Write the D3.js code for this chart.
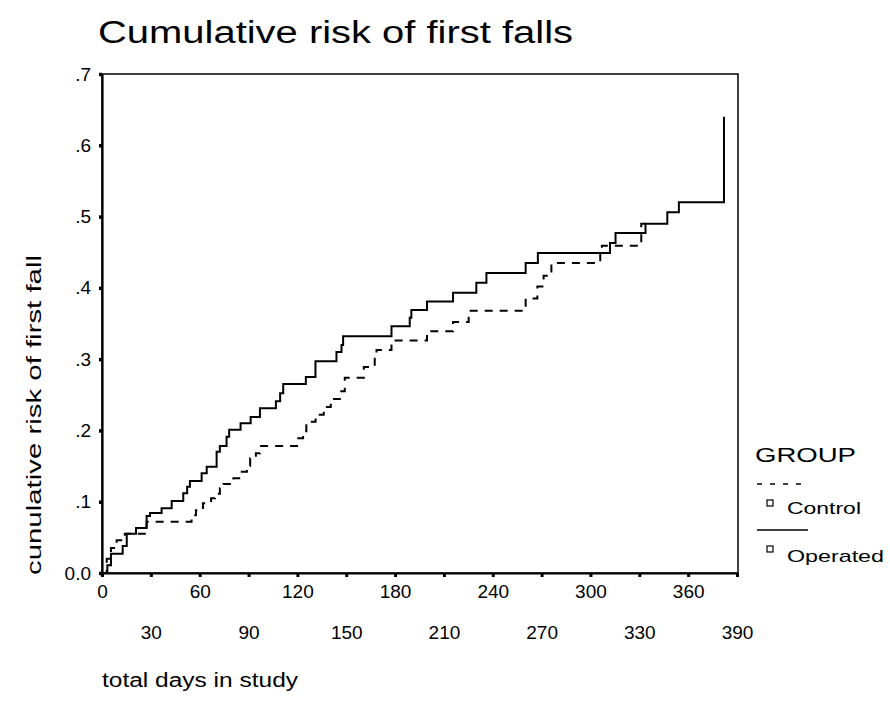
<!DOCTYPE html>
<html>
<head>
<meta charset="utf-8">
<script src="https://cdn.jsdelivr.net/npm/d3@7"></script>
<style>
body { margin: 0; background: #fff; }
text { font-family: "Liberation Sans", Arial, sans-serif; fill: #000; }
</style>
</head>
<body>
<script>
// Kaplan-Meier style cumulative risk

var w = 890;
var h = 715;

var xTicks = [0, 30, 60, 90, 120, 150, 180, 210, 240, 270, 300, 330, 360, 390];
var yTicks = [0, 0.1, 0.2, 0.3, 0.4, 0.5, 0.6, 0.7];

// Operated group (solid)
var operatedDays = [0, 3.3, 5.5, 12.7, 15.2, 20.9, 27.4, 29.5, 36.6, 42.8, 49.9, 52.3, 54,
    61.2, 64.3, 70.4, 72.4, 76.5, 78.1, 85.1, 91.3, 97, 106.8, 109.4, 111.3, 125.2,
    131.1, 144, 147.1, 148.1, 177.8, 189, 190, 199.6, 215.6, 229.9, 236.1, 260.2,
    267.7, 312, 315.4, 333.8, 347.2, 354.3, 382];
var operatedRisk = [0, .011, .027, .038, .055, .063, .080, .084, .091, .101, .112, .121, .129,
    .140, .149, .170, .178, .191, .201, .210, .219, .231, .241, .252, .265, .275,
    .297, .310, .320, .332, .346, .358, .369, .381, .393, .407, .421, .435,
    .449, .463, .477, .490, .506, .520, .640];

// Control group (dashed)
var controlDays = [0, 2.9, 5.5, 9, 14, 27.4, 55, 57.7, 62, 67, 69.4, 72.4, 74.6, 80.7, 85,
    89, 91, 94.5, 97, 119.8, 123.5, 125.5, 131.2, 136.2, 140.5, 146.1, 149.1, 160.8,
    167.5, 168.6, 177.8, 199.6, 215.6, 225.2, 260.2, 267.4, 271.2, 276, 306, 307,
    331.2, 338];
var controlRisk = [0, .020, .035, .046, .055, .072, .081, .088, .098, .105, .111, .119, .125, .133, .142,
    .150, .161, .168, .178, .189, .199, .212, .222, .233, .244, .255, .274, .289,
    .303, .313, .326, .339, .352, .368, .385, .402, .417, .435, .448, .459,
    .490, .490];

var groups = ["Control", "Operated"];

var svg = d3.select("body")
            .append("svg")
            .attr("width", w)
            .attr("height", h);

// plot box (note: "top" is taken by window.top)
var boxL = 102, boxR = 738, boxT = 74, boxB = 573;

var x = d3.scaleLinear().domain([0, 390]).range([boxL, boxR - 1]);
var y = d3.scaleLinear().domain([0, 0.7]).range([boxB, boxT]);

// title
svg.append("text")
    .attr("x", 98)
    .attr("y", 43)
    .attr("font-size", "31px")
    .attr("textLength", 475)
    .attr("lengthAdjust", "spacingAndGlyphs")
    .text("Cumulative risk of first falls");

// frame
svg.append("rect")
    .attr("x", boxL)
    .attr("y", boxT)
    .attr("width", boxR - boxL)
    .attr("height", boxB - boxT)
    .attr("fill", "none")
    .attr("stroke", "#000")
    .attr("stroke-width", 1.5);

// axes
var xAxis = svg.append("g")
    .attr("transform", "translate(0," + boxB + ")")
    .call(d3.axisBottom(x).tickValues(xTicks).tickSize(4).tickSizeOuter(0).tickFormat(function(d) { return d; }));
xAxis.select(".domain").attr("stroke-width", 2.2);
xAxis.selectAll(".tick line").attr("stroke-width", 3);
xAxis.selectAll(".tick text")
    .attr("font-size", "19px")
    .attr("font-family", "Liberation Sans, Arial, sans-serif")
    .attr("dy", 0)
    .attr("y", function(d, i) { return i % 2 == 0 ? 25 : 66; });

var yAxis = svg.append("g")
    .attr("transform", "translate(" + boxL + ",0)")
    .call(d3.axisLeft(y).tickValues(yTicks).tickSize(3).tickSizeOuter(0).tickPadding(8)
        .tickFormat(function(d) { return d == 0 ? "0.0" : "." + Math.round(d * 10); }));
yAxis.select(".domain").attr("stroke-width", 2.2);
yAxis.selectAll(".tick line").attr("stroke-width", 3.5);
yAxis.selectAll(".tick text")
    .attr("font-size", "19px")
    .attr("font-family", "Liberation Sans, Arial, sans-serif");

// axis titles
svg.append("text")
    .attr("x", 102)
    .attr("y", 687)
    .attr("font-size", "20px")
    .attr("textLength", 196)
    .attr("lengthAdjust", "spacingAndGlyphs")
    .text("total days in study");

svg.append("text")
    .attr("transform", "translate(41,575) rotate(-90)")
    .attr("font-size", "20px")
    .attr("textLength", 320)
    .attr("lengthAdjust", "spacingAndGlyphs")
    .text("cunulative risk of first fall");

// curves
var line = d3.line()
    .x(function(d) { return x(d[0]); })
    .y(function(d) { return y(d[1]); })
    .curve(d3.curveStepAfter);

var control = d3.zip(controlDays, controlRisk);
var operated = d3.zip(operatedDays, operatedRisk);

svg.append("path")
    .datum(control)
    .attr("d", line)
    .attr("fill", "none")
    .attr("stroke", "#000")
    .attr("stroke-width", 2)
    .attr("stroke-dasharray", "8,7");

svg.append("path")
    .datum(operated)
    .attr("d", line)
    .attr("fill", "none")
    .attr("stroke", "#000")
    .attr("stroke-width", 2);

// legend
svg.append("text")
    .attr("x", 755)
    .attr("y", 462)
    .attr("font-size", "21px")
    .attr("textLength", 101)
    .attr("lengthAdjust", "spacingAndGlyphs")
    .text("GROUP");

var legend = svg.selectAll(".legend")
    .data(groups)
    .enter().append("g")
        .attr("class", "legend")
        .attr("transform", function(d, i) { return "translate(0," + (i * 46) + ")"; });

legend.append("line")
    .attr("x1", 757)
    .attr("x2", 808)
    .attr("y1", 484)
    .attr("y2", 484)
    .attr("stroke", "#000")
    .attr("stroke-width", 1.5)
    .attr("stroke-dasharray", function(d) { return d == "Control" ? "5,8" : null; });

legend.append("rect")
    .attr("x", 767)
    .attr("y", 500)
    .attr("width", 6)
    .attr("height", 6)
    .attr("fill", "none")
    .attr("stroke", "#000")
    .attr("stroke-width", 1.2);

legend.append("text")
    .attr("x", 787)
    .attr("y", function(d) { return d == "Control" ? 514 : 516; })
    .attr("font-size", "17px")
    .attr("textLength", function(d) { return d == "Control" ? 74 : 97; })
    .attr("lengthAdjust", "spacingAndGlyphs")
    .text(function(d) { return d; });
</script>
</body>
</html>
